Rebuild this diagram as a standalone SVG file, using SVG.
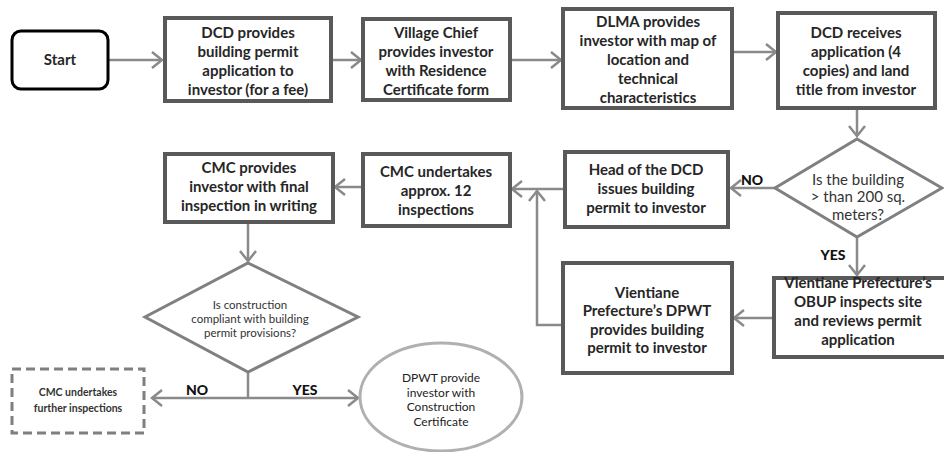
<svg xmlns="http://www.w3.org/2000/svg" width="944" height="452" viewBox="0 0 944 452">
<style>
.box{fill:#fff;stroke:#595959;stroke-width:4}
.start{fill:#fff;stroke:#000;stroke-width:3}
.dia{fill:#fff;stroke:#808080;stroke-width:3}
.dash{fill:#fff;stroke:#7f7f7f;stroke-width:3;stroke-dasharray:9 5}
.ell{fill:#fff;stroke:#b0b0b0;stroke-width:3}
.c{fill:none;stroke:#8a8a8a;stroke-width:2.5}
.t{font-family:Lato,"Liberation Sans",sans-serif;font-weight:bold;font-size:15px;fill:#262626;text-anchor:middle}
.r{font-family:Lato,"Liberation Sans",sans-serif;font-size:15px;fill:#333;text-anchor:middle}
.s{font-family:Lato,"Liberation Sans",sans-serif;font-size:11.5px;fill:#333;text-anchor:middle}
.sb{font-family:Lato,"Liberation Sans",sans-serif;font-weight:bold;font-size:10.5px;fill:#333;text-anchor:middle}
.e{font-family:Lato,"Liberation Sans",sans-serif;font-size:12px;fill:#222;text-anchor:middle}
.lbl{font-family:Lato,"Liberation Sans",sans-serif;font-weight:900;font-size:14px;fill:#111;text-anchor:middle}
</style>
<defs>
<marker id="a" markerUnits="userSpaceOnUse" markerWidth="14" markerHeight="20" refX="11" refY="9" orient="auto-start-reverse">
<path d="M1,1 L11,9 L1,17" fill="none" stroke="#8a8a8a" stroke-width="2.5"/>
</marker>
</defs>
<g id="connectors">
<line class="c" x1="109" y1="60" x2="162" y2="60" marker-end="url(#a)"/>
<line class="c" x1="333" y1="60" x2="361" y2="60" marker-end="url(#a)"/>
<line class="c" x1="512" y1="60" x2="561" y2="60" marker-end="url(#a)"/>
<line class="c" x1="734" y1="52" x2="776" y2="52" marker-end="url(#a)"/>
<line class="c" x1="857" y1="110" x2="857" y2="136" marker-end="url(#a)"/>
<line class="c" x1="775" y1="188" x2="731" y2="188" marker-end="url(#a)"/>
<line class="c" x1="857" y1="237" x2="857" y2="275" marker-end="url(#a)"/>
<line class="c" x1="773" y1="318" x2="734" y2="318" marker-end="url(#a)"/>
<line class="c" x1="563" y1="189" x2="512" y2="189" marker-end="url(#a)"/>
<polyline class="c" points="563,325 537,325 537,191" marker-end="url(#a)"/>
<line class="c" x1="363" y1="187" x2="335" y2="187" marker-end="url(#a)"/>
<line class="c" x1="248" y1="222" x2="248" y2="261" marker-end="url(#a)"/>
<line class="c" x1="248" y1="372" x2="248" y2="398"/>
<line class="c" x1="152" y1="398" x2="358" y2="398" marker-start="url(#a)" marker-end="url(#a)"/>
</g>
<g id="start">
<rect class="start" x="12" y="31" width="96" height="58" rx="9"/>
<text class="t" x="60" y="65">Start</text>
</g>
<g id="n1">
<rect class="box" x="165" y="18" width="166" height="83"/>
<text class="t" x="248" y="38">DCD provides</text>
<text class="t" x="248" y="57">building permit</text>
<text class="t" x="248" y="76">application to</text>
<text class="t" x="248" y="95">investor (for a fee)</text>
</g>
<g id="n2">
<rect class="box" x="363" y="19" width="147" height="81"/>
<text class="t" x="436" y="38">Village Chief</text>
<text class="t" x="436" y="57">provides investor</text>
<text class="t" x="436" y="76">with Residence</text>
<text class="t" x="436" y="95">Certificate form</text>
</g>
<g id="n3">
<rect class="box" x="563" y="9" width="169" height="99"/>
<text class="t" x="648" y="27">DLMA provides</text>
<text class="t" x="648" y="46">investor with map of</text>
<text class="t" x="648" y="65">location and</text>
<text class="t" x="648" y="84">technical</text>
<text class="t" x="648" y="103">characteristics</text>
</g>
<g id="n4">
<rect class="box" x="778" y="13" width="157" height="95"/>
<text class="t" x="856" y="38">DCD receives</text>
<text class="t" x="856" y="57">application (4</text>
<text class="t" x="856" y="76">copies)  and land</text>
<text class="t" x="856" y="95">title from investor</text>
</g>
<g id="d1">
<polygon class="dia" points="857,139 942,188 857,237 775,188"/>
<text class="r" x="858" y="185">Is the building</text>
<text class="r" x="858" y="202">&gt; than 200 sq.</text>
<text class="r" x="858" y="220">meters?</text>
<text class="lbl" x="752" y="185">NO</text>
<text class="lbl" x="833" y="260">YES</text>
</g>
<g id="n5">
<rect class="box" x="565" y="152" width="163" height="75"/>
<text class="t" x="646" y="175">Head of the DCD</text>
<text class="t" x="646" y="194">issues building</text>
<text class="t" x="646" y="213">permit to investor</text>
</g>
<g id="n6">
<rect class="box" x="363" y="154" width="147" height="72"/>
<text class="t" x="436" y="177">CMC undertakes</text>
<text class="t" x="436" y="196">approx. 12</text>
<text class="t" x="436" y="215">inspections</text>
</g>
<g id="n7">
<rect class="box" x="165" y="154" width="168" height="68"/>
<text class="t" x="249" y="173">CMC provides</text>
<text class="t" x="249" y="192">investor with final</text>
<text class="t" x="249" y="211">inspection in writing</text>
</g>
<g id="n8">
<rect class="box" x="774" y="278" width="172" height="79"/>
<text class="t" x="858" y="288">Vientiane Prefecture’s</text>
<text class="t" x="858" y="307">OBUP inspects site</text>
<text class="t" x="858" y="326">and reviews permit</text>
<text class="t" x="858" y="345">application</text>
</g>
<g id="n9">
<rect class="box" x="563" y="263" width="169" height="110"/>
<text class="t" x="647" y="298">Vientiane</text>
<text class="t" x="647" y="316">Prefecture’s DPWT</text>
<text class="t" x="647" y="335">provides building</text>
<text class="t" x="647" y="353">permit to investor</text>
</g>
<g id="d2">
<polygon class="dia" points="248,263 358,317 248,372 145,317"/>
<text class="s" x="250" y="309">Is construction</text>
<text class="s" x="250" y="323">compliant with building</text>
<text class="s" x="250" y="337">permit provisions?</text>
<text class="lbl" x="197" y="395">NO</text>
<text class="lbl" x="305" y="395">YES</text>
</g>
<g id="n10">
<rect class="dash" x="12" y="369" width="132" height="64"/>
<text class="sb" x="78" y="396">CMC undertakes</text>
<text class="sb" x="78" y="412">further inspections</text>
</g>
<g id="n11">
<ellipse class="ell" cx="441" cy="397" rx="81" ry="54"/>
<text class="e" x="441" y="382">DPWT provide</text>
<text class="e" x="441" y="397">investor with</text>
<text class="e" x="441" y="411">Construction</text>
<text class="e" x="441" y="426">Certificate</text>
</g>
</svg>
